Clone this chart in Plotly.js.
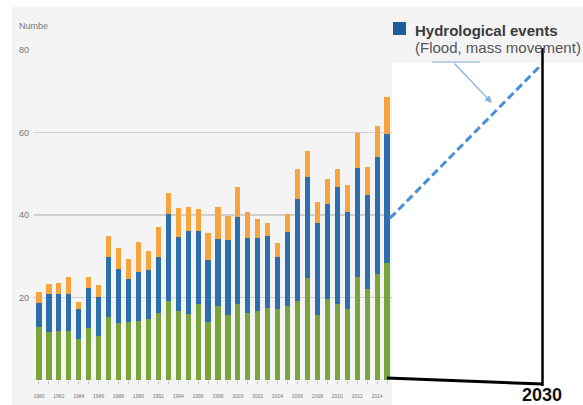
<!DOCTYPE html>
<html>
<head>
<meta charset="utf-8">
<script src="https://cdn.plot.ly/plotly-3.0.1.min.js"></script>
<style>html,body{margin:0;padding:0;background:#fff;}#chart{width:583px;height:405px;}</style>
</head>
<body>
<div id="chart"></div>
<script>
// ---- data ----
const years = [1980,1981,1982,1983,1984,1985,1986,1987,1988,1989,1990,1991,1992,1993,1994,1995,1996,1997,1998,1999,2000,2001,2002,2003,2004,2005,2006,2007,2008,2009,2010,2011,2012,2013,2014,2015];
// stacked segment heights (number of events)
const greenSeries  = [12.9,11.7,11.9,11.9,9.9,12.5,10.7,15.3,13.9,14.1,14.3,14.8,16.2,19.2,16.7,16.0,18.4,14.1,17.9,15.8,18.4,16.3,16.7,17.4,17.1,17.9,19.2,24.7,15.8,19.6,18.4,17.1,24.9,22.1,25.7,28.4];
const blueSeries   = [5.8,9.1,8.9,8.9,7.2,9.7,9.5,14.4,13.0,10.3,11.8,11.9,13.5,21.0,17.9,20.1,17.7,15.0,16.4,18.1,21.2,18.2,17.8,17.5,12.6,18.1,24.7,24.4,22.2,23.1,28.3,23.7,26.6,22.7,28.3,31.2];
const orangeSeries = [2.7,2.4,2.6,4.1,1.9,2.7,2.8,5.2,5.0,4.9,7.3,4.6,7.3,5.1,7.2,5.9,5.4,6.6,7.6,5.9,7.3,6.3,4.5,3.1,3.4,4.2,7.2,6.5,5.2,6.0,4.5,6.5,8.3,6.8,7.6,8.9];
const tickLabels = ["1980","","1982","","1984","","1986","","1988","","1990","","1992","","1994","","1996","","1998","","2000","","2002","","2004","","2006","","2008","","2010","","2012","","2014",""];
const yTicks = [20,40,60,80];
const projYears = [2015, 2030];
const projValues = [39.2, 76.6];
const targetYear = [2030];
const targetLabel = ["2030"];
const legendTitle = "Hydrological events";
const legendSub = "(Flood, mass movement)";
const yLabel = "Numbe";

// ---- geometry helpers (pixel -> paper) ----
const L = 34, R = 560, T = 50, B = 380;
const px = x => (x - L) / (R - L);
const py = y => (B - y) / (B - T);

const traces = [
  {type:'bar', x: years, y: greenSeries, marker:{color:'#7aa33c'}, xaxis:'x', yaxis:'y', showlegend:false, hoverinfo:'skip'},
  {type:'bar', x: years, y: blueSeries, marker:{color:'#2d6fae'}, xaxis:'x', yaxis:'y', showlegend:false, hoverinfo:'skip'},
  {type:'bar', x: years, y: orangeSeries, marker:{color:'#f7a43d'}, xaxis:'x', yaxis:'y', showlegend:false, hoverinfo:'skip'},
  {type:'scatter', mode:'lines', x: projYears, y: projValues, xaxis:'x2', yaxis:'y2', cliponaxis:false,
   line:{color:'#4a90d4', width:3, dash:'8px,4px'}, showlegend:false, hoverinfo:'skip'}
];

const layout = {
  width: 583, height: 405,
  margin: {l: L, r: 583 - R, t: T, b: 405 - B, pad: 0},
  paper_bgcolor: '#ffffff',
  plot_bgcolor: 'rgba(0,0,0,0)',
  barmode: 'stack',
  bargap: 0.48,
  showlegend: false,
  font: {family: 'Liberation Sans, Arial, sans-serif', color: '#666'},
  xaxis: {
    domain: [0, px(392)], range: [1979.5, 2015.5],
    tickmode: 'array', tickvals: years, ticktext: tickLabels,
    ticks: 'outside', ticklen: 3, tickwidth: 1, tickcolor: '#c4c4c4',
    tickfont: {size: 5, color: '#777'}, ticklabelstandoff: 8,
    showgrid: false, zeroline: false, showline: false, fixedrange: true
  },
  yaxis: {
    range: [0, 80], tickmode: 'array', tickvals: yTicks,
    showgrid: true, gridcolor: '#cfcfcf', gridwidth: 1.5,
    zeroline: false, showline: false, ticks: '',
    tickfont: {size: 9, color: '#777'}, ticklabelstandoff: 4, fixedrange: true
  },
  xaxis2: {
    domain: [px(388), 1], range: [2014.803, 2031.776], anchor: 'y2',
    tickmode: 'array', tickvals: targetYear, ticktext: targetLabel,
    ticks: '', tickfont: {size: 18, color: '#111', family: 'Liberation Sans, Arial, sans-serif', weight: 'bold'},
    ticklabelstandoff: 2,
    showgrid: false, zeroline: false, showline: false, fixedrange: true
  },
  yaxis2: {
    domain: [0, 1], range: [0, 80], anchor: 'x2', visible: false, showgrid: false, fixedrange: true
  },
  shapes: [
    {type:'rect', xref:'paper', yref:'paper', x0: px(12), x1: px(600), y0: py(410), y1: py(7),
     fillcolor:'#f4f4f4', line:{width:0}, layer:'below'},
    {type:'rect', xref:'paper', yref:'paper', x0: px(392), x1: px(600), y0: py(410), y1: py(63),
     fillcolor:'#ffffff', line:{width:0}, layer:'below'},
    // legend square
    {type:'rect', xref:'paper', yref:'paper', x0: px(393), x1: px(406), y0: py(35), y1: py(22),
     fillcolor:'#1e5d9c', line:{width:0}},
    // thin callout line
    {type:'line', xref:'paper', yref:'paper', x0: px(432), x1: px(480), y0: py(62), y1: py(62),
     line:{color:'#7fb0de', width:1.2}},
    // base line to 2030
    {type:'line', xref:'paper', yref:'paper', x0: px(387), x1: px(543), y0: py(378), y1: py(384),
     line:{color:'#000', width:3}},
    // vertical line at 2030
    {type:'line', xref:'paper', yref:'paper', x0: px(542.5), x1: px(542.5), y0: py(386), y1: py(48),
     line:{color:'#000', width:2.5}}
  ],
  annotations: [
    {xref:'paper', yref:'paper', x: px(17), y: py(26), xanchor:'left', yanchor:'middle', showarrow:false,
     text: yLabel, font:{size:9, color:'#777'}},
    {xref:'paper', yref:'paper', x: px(413), y: py(31), xanchor:'left', yanchor:'middle', showarrow:false,
     text: '<b>' + legendTitle + '</b>', font:{size:15, color:'#3a3a3a'}},
    {xref:'paper', yref:'paper', x: px(413), y: py(47), xanchor:'left', yanchor:'middle', showarrow:false,
     text: legendSub, font:{size:15, color:'#555'}},
    {xref:'paper', yref:'paper', x: px(492), y: py(103), ax: 453 - 492, ay: 62 - 103, axref:'pixel', ayref:'pixel',
     text:'', showarrow:true, arrowhead:2, arrowsize:1.2, arrowwidth:1.2, arrowcolor:'#7fb0de'}
  ]
};

Plotly.newPlot('chart', traces, layout, {staticPlot:true, displayModeBar:false});
</script>
</body>
</html>
